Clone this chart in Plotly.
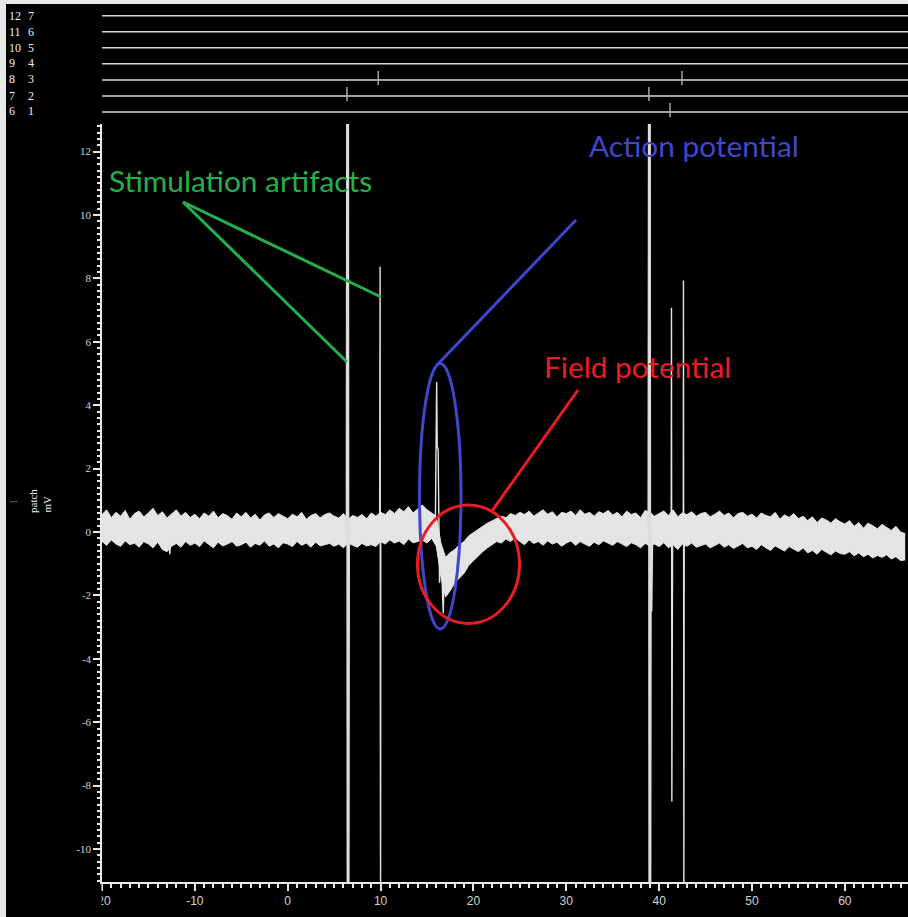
import plotly.graph_objects as go

# ---------------- data ----------------
# time axis of the sweep (ms) and amplitude axis (mV)
x_range = [-20.0, 66.8]
y_range = [-11.04, 12.87]

# noise band envelope sampled every 0.5 ms starting at -20 ms
band_start = -20.0
band_step = 0.5
band_upper = [
    0.55, 0.70, 0.45, 0.62, 0.50, 0.68, 0.40, 0.58, 0.66, 0.48,
    0.60, 0.75, 0.52, 0.64, 0.44, 0.58, 0.70, 0.50, 0.62, 0.46,
    0.56, 0.42, 0.60, 0.50, 0.66, 0.45, 0.58, 0.52, 0.40, 0.60,
    0.48, 0.62, 0.44, 0.56, 0.38, 0.54, 0.60, 0.46, 0.58, 0.50,
    0.42, 0.56, 0.48, 0.62, 0.40, 0.52, 0.58, 0.45, 0.55, 0.60,
    0.50, 0.44, 0.58, 0.40, 0.52, 0.46, 0.55, 0.42, 0.60, 0.50,
    0.62, 0.55, 0.70, 0.58, 0.75, 0.64, 0.80, 0.60, 0.72, 0.85,
    0.70, 0.60, 0.50, -0.35, -0.80, -0.65, -0.55, -0.40, -0.30, -0.12,
    -0.02, 0.10, 0.18, 0.28, 0.35, 0.42, 0.50, 0.45, 0.58, 0.52,
    0.62, 0.55, 0.66, 0.50, 0.60, 0.70, 0.56, 0.64, 0.48, 0.62,
    0.58, 0.66, 0.52, 0.70, 0.56, 0.62, 0.50, 0.64, 0.58, 0.68,
    0.54, 0.62, 0.48, 0.66, 0.55, 0.60, 0.45, 0.68, 0.62, 0.50,
    0.58, 0.66, 0.52, 0.70, 0.48, 0.60, 0.55, 0.64, 0.50, 0.58,
    0.62, 0.48, 0.56, 0.66, 0.52, 0.60, 0.45, 0.58, 0.62, 0.50,
    0.56, 0.44, 0.60, 0.52, 0.48, 0.62, 0.40, 0.54, 0.46, 0.58,
    0.42, 0.50, 0.36, 0.48, 0.30, 0.44, 0.38, 0.28, 0.42, 0.32,
    0.25, 0.36, 0.18, 0.30, 0.12, 0.28, 0.20, 0.10, 0.24, 0.15,
    0.05, 0.18, 0.00, -0.05,
]
band_lower = [
    -0.30, -0.42, -0.25, -0.38, -0.45, -0.28, -0.40, -0.35, -0.48, -0.30,
    -0.38, -0.50, -0.32, -0.55, -0.62, -0.45, -0.36, -0.48, -0.30, -0.42,
    -0.35, -0.46, -0.28, -0.40, -0.50, -0.32, -0.44, -0.38, -0.30, -0.45,
    -0.40, -0.32, -0.48, -0.36, -0.42, -0.28, -0.45, -0.38, -0.50, -0.34,
    -0.38, -0.46, -0.30, -0.42, -0.35, -0.48, -0.32, -0.44, -0.40, -0.36,
    -0.45, -0.38, -0.50, -0.35, -0.42, -0.48, -0.36, -0.44, -0.40, -0.46,
    -0.30, -0.38, -0.25, -0.35, -0.28, -0.40, -0.22, -0.34, -0.30, -0.25,
    -0.35, -0.20, -0.45, -1.40, -2.05, -1.85, -1.60, -1.45, -1.30, -1.05,
    -0.90, -0.75, -0.62, -0.50, -0.40, -0.30, -0.35, -0.22, -0.30, -0.18,
    -0.30, -0.40, -0.25, -0.36, -0.30, -0.42, -0.28, -0.38, -0.32, -0.45,
    -0.35, -0.28, -0.42, -0.30, -0.38, -0.45, -0.32, -0.40, -0.28, -0.36,
    -0.42, -0.30, -0.38, -0.46, -0.34, -0.40, -0.50, -0.36, -0.44, -0.38,
    -0.46, -0.34, -0.50, -0.40, -0.55, -0.38, -0.45, -0.35, -0.48, -0.42,
    -0.38, -0.50, -0.42, -0.35, -0.48, -0.40, -0.52, -0.44, -0.36, -0.50,
    -0.45, -0.55, -0.40, -0.50, -0.58, -0.44, -0.52, -0.60, -0.46, -0.55,
    -0.62, -0.50, -0.66, -0.58, -0.70, -0.55, -0.64, -0.72, -0.60, -0.68,
    -0.70, -0.62, -0.75, -0.66, -0.78, -0.70, -0.82, -0.74, -0.80, -0.72,
    -0.85, -0.78, -0.90, -0.88,
]

# fast events on the patch trace (None separates events)
spike_t = [-12.80, -12.70, -12.60, None,
           9.90, 9.95, 9.98, 10.00, 10.02, None,
           15.90, 16.04, 16.10, 16.20, 16.35, 16.50, 16.75, 16.85, 17.00, None,
           39.10, 39.20, 39.30, None,
           41.30, 41.33, 41.37, 41.40, 41.45, None,
           42.60, 42.62, 42.66, 42.70]
spike_v = [-0.20, -0.70, -0.20, None,
           0.20, 8.37, -8.00, -11.5, 0.10, None,
           0.30, 4.73, 2.70, 2.60, -1.60, -0.50, -2.56, -1.20, -1.80, None,
           0.00, -2.50, 0.00, None,
           0.20, 7.07, -8.50, -1.00, 0.10, None,
           0.30, 7.93, -11.5, 0.00]

# saturating stimulation artifacts
artifact_t = [6.40, 6.45, 6.50, 6.55, None, 38.90, 38.95, 39.00, 39.05]
artifact_v = [0.10, 14.0, -12.0, 0.00, None, 0.10, 14.0, -12.0, 0.00]

# event channels shown above the trace
channel_rows = [7, 6, 5, 4, 3, 2, 1]
channel_left = ["12", "11", "10", "9", "8", "7", "6"]
channel_right = ["7", "6", "5", "4", "3", "2", "1"]
event_channel = [3, 3, 2, 2, 1]
event_time = [9.75, 42.46, 6.38, 38.90, 41.17]

x_ticks = [-20, -10, 0, 10, 20, 30, 40, 50, 60]
y_ticks = [-10, -8, -6, -4, -2, 0, 2, 4, 6, 8, 10, 12]

# ---------------- figure ----------------
W, H = 908, 917


def pxx(p):
    return p / W


def pxy(p):
    return 1 - p / H


TRACE = "#e4e4e4"
AXC = "#e8e8e8"
LBL = "#d4d4d4"

band_t = [band_start + band_step * i for i in range(len(band_upper))]

fig = go.Figure()
fig.add_trace(go.Scatter(x=band_t, y=band_lower, mode="lines",
                         line=dict(color=TRACE, width=1), hoverinfo="skip",
                         showlegend=False))
fig.add_trace(go.Scatter(x=band_t, y=band_upper, mode="lines", fill="tonexty",
                         fillcolor=TRACE, line=dict(color=TRACE, width=1),
                         hoverinfo="skip", showlegend=False))
fig.add_trace(go.Scatter(x=spike_t, y=spike_v, mode="lines",
                         line=dict(color=TRACE, width=1.4), showlegend=False))
fig.add_trace(go.Scatter(x=artifact_t, y=artifact_v, mode="lines",
                         line=dict(color="#dcdcdc", width=3), showlegend=False))

# channel baselines
for row in channel_rows:
    fig.add_trace(go.Scatter(x=x_range, y=[row, row], mode="lines",
                             line=dict(color="#d8d8d8", width=1.5),
                             xaxis="x", yaxis="y2", showlegend=False,
                             hoverinfo="skip"))
# channel event ticks
ev_x, ev_y = [], []
for ch, t in zip(event_channel, event_time):
    ev_x += [t, t, None]
    ev_y += [ch - 0.32, ch + 0.56, None]
fig.add_trace(go.Scatter(x=ev_x, y=ev_y, mode="lines",
                         line=dict(color="#a8a8a8", width=1.5),
                         xaxis="x", yaxis="y2", showlegend=False))

shapes = []
# window frame (light border top / left)
shapes.append(dict(type="rect", xref="paper", yref="paper", x0=0, x1=1,
                   y0=pxy(4), y1=1, fillcolor="#e8e8e8", line=dict(width=0),
                   layer="above"))
shapes.append(dict(type="rect", xref="paper", yref="paper", x0=0, x1=pxx(6),
                   y0=0, y1=1, fillcolor="#e8e8e8", line=dict(width=0),
                   layer="above"))
# the first x label is clipped by the panel edge
shapes.append(dict(type="rect", xref="paper", yref="paper", x0=pxx(6),
                   x1=pxx(101.5), y0=0, y1=pxy(884), fillcolor="#000000",
                   line=dict(width=0), layer="above"))

GREEN = "#22b14c"
BLUE = "#3f48cc"
RED = "#ed1c24"


def seg(x0, y0, x1, y1, color):
    return dict(type="line", xref="paper", yref="paper", x0=pxx(x0),
                y0=pxy(y0), x1=pxx(x1), y1=pxy(y1),
                line=dict(color=color, width=3), layer="above")


shapes.append(seg(183, 202, 347, 362, GREEN))
shapes.append(seg(183, 202, 381, 297, GREEN))
shapes.append(seg(437, 365, 576, 220, BLUE))
shapes.append(dict(type="circle", xref="paper", yref="paper",
                   x0=pxx(419.5), x1=pxx(461), y0=pxy(629), y1=pxy(363.5),
                   line=dict(color=BLUE, width=3), layer="above"))
shapes.append(seg(492, 511, 578, 390, RED))
shapes.append(dict(type="circle", xref="paper", yref="paper",
                   x0=pxx(417.5), x1=pxx(519.5), y0=pxy(623.5), y1=pxy(505),
                   line=dict(color=RED, width=3), layer="above"))

ann = []
TXT = "Lato"
ann.append(dict(text="Stimulation artifacts", x=pxx(107), y=pxy(180),
                xanchor="left", yanchor="middle",
                font=dict(family=TXT, size=29.8, color=GREEN)))
ann.append(dict(text="Action potential", x=pxx(587), y=pxy(146),
                xanchor="left", yanchor="middle",
                font=dict(family=TXT, size=29.8, color=BLUE)))
ann.append(dict(text="Field potential", x=pxx(542), y=pxy(367),
                xanchor="left", yanchor="middle",
                font=dict(family=TXT, size=29.8, color=RED)))

row_px = [15.7, 32.0, 47.7, 63.0, 79.0, 95.7, 111.5]
for yy, a, b in zip(row_px, channel_left, channel_right):
    ann.append(dict(text=a, x=pxx(7), y=pxy(yy), xanchor="left",
                    yanchor="middle",
                    font=dict(family="Liberation Serif", size=12,
                              color="#f0f0f0")))
    ann.append(dict(text=b, x=pxx(25.5), y=pxy(yy), xanchor="left",
                    yanchor="middle",
                    font=dict(family="Liberation Serif", size=12,
                              color="#f0f0f0")))

ann.append(dict(text="patch", x=pxx(33), y=pxy(501), textangle=-90,
                xanchor="center", yanchor="middle",
                font=dict(family="Liberation Serif", size=11, color="#f0f0f0")))
ann.append(dict(text="mV", x=pxx(46.5), y=pxy(504), textangle=-90,
                xanchor="center", yanchor="middle",
                font=dict(family="Liberation Serif", size=11, color="#f0f0f0")))
ann.append(dict(text="1", x=pxx(12.5), y=pxy(502), textangle=-90,
                xanchor="center", yanchor="middle",
                font=dict(family="Liberation Serif", size=11, color="#c04040")))

for a in ann:
    a.update(xref="paper", yref="paper", showarrow=False)

fig.update_layout(
    width=W, height=H, autosize=False,
    margin=dict(l=0, r=0, t=0, b=0, pad=0),
    paper_bgcolor="#000000", plot_bgcolor="#000000",
    showlegend=False, hovermode=False,
    shapes=shapes, annotations=ann,
    xaxis=dict(domain=[pxx(102), 1], range=x_range, showgrid=False,
               zeroline=False, showline=True, linecolor=AXC, linewidth=1.5,
               ticks="outside", ticklen=7, tickwidth=1.5, tickcolor=AXC,
               tickvals=x_ticks, ticktext=[str(v) for v in x_ticks],
               tickfont=dict(family="Liberation Sans", size=12, color=LBL),
               minor=dict(dtick=1, tick0=0, ticks="outside", ticklen=4,
                          tickwidth=1.5, tickcolor=AXC, showgrid=False),
               anchor="y", automargin=False, fixedrange=True),
    yaxis=dict(domain=[pxy(882), pxy(124)], range=y_range, showgrid=False,
               zeroline=False, showline=True, linecolor=AXC, linewidth=1.5,
               ticks="outside", ticklen=7, tickwidth=1.5, tickcolor=AXC,
               tickvals=y_ticks, ticktext=[str(v) for v in y_ticks],
               tickfont=dict(family="Liberation Serif", size=11, color=LBL),
               minor=dict(dtick=0.2, tick0=0, ticks="outside", ticklen=3.5,
                          tickwidth=1.5, tickcolor=AXC, showgrid=False),
               anchor="x", automargin=False, fixedrange=True),
    yaxis2=dict(domain=[pxy(120), 1], range=[0.5016, 7.978], visible=False,
                anchor="x", fixedrange=True),
)

fig.write_html("out.html")
